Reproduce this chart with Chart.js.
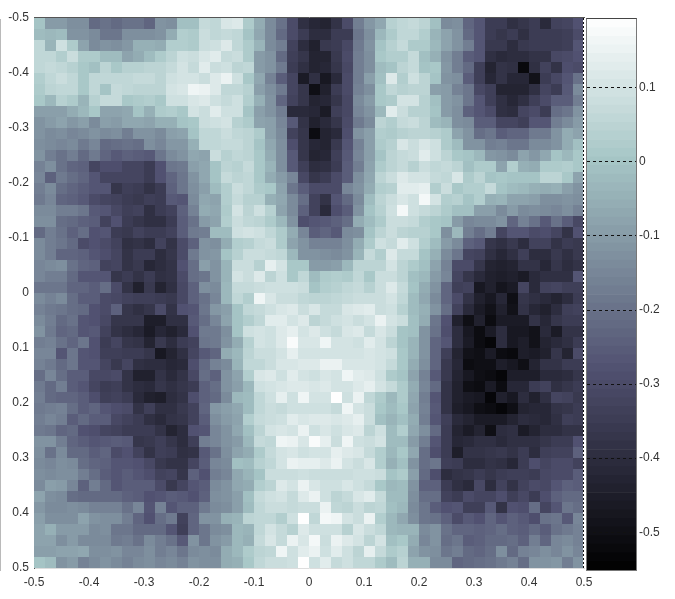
<!DOCTYPE html>
<html>
<head>
<meta charset="utf-8">
<script src="https://cdn.jsdelivr.net/npm/chart.js@4"></script>
<style>
  html, body { margin: 0; background: #fff; }
  canvas { position: absolute; left: 0; top: 0; }
</style>
</head>
<body>
<canvas id="map" width="675" height="599"></canvas>
<canvas id="bar" width="675" height="599"></canvas>
<script>
// axis ticks
const mapTicks = [-0.5, -0.4, -0.3, -0.2, -0.1, 0, 0.1, 0.2, 0.3, 0.4, 0.5];
const barTicks = [-0.5, -0.4, -0.3, -0.2, -0.1, 0, 0.1];
const barMin = -0.551;
const barMax = 0.193;

// cell values, in hundredths, top row first
const cellRows = [
[0,-10,-10,-13,-13,-22,-20,-22,-20,-20,-23,-12,-13,-1,-1,7, 6,11,12,2,-6,-14,-20,-30,-39,-42,-43,-38,-30,-17,-11,-7,4, 6,7,5,-1,-14,-13,-23,-27,-35,-35,-39,-37,-35,-41,-33,-32,-28],
[-2,-3,-2,-12,-12,-14,-19,-19,-13,-13,-13,-12,-6,3,2,8, 6,7,6,0,-7,-14,-22,-30,-35,-40,-40,-35,-35,-19,-13,-3,2, 6,6,3,-4,-8,-12,-22,-27,-35,-37,-35,-39,-35,-35,-35,-34,-30],
[6,-4,9,2,-8,-14,-12,-13,-11,-5,-5,-6,3,3,2,8, 9,12,6,2,-4,-14,-17,-33,-40,-44,-36,-35,-31,-18,-12,0,4, 7,2,2,-3,-8,-12,-17,-27,-36,-36,-40,-36,-35,-35,-35,-34,-27],
[6,6,3,8,2,2,-2,-2,-8,-6,-2,2,5,9,8,11, 13,7,8,2,-10,-12,-22,-34,-37,-43,-43,-36,-30,-17,-13,1,3, 3,7,-1,-5,-12,-17,-25,-27,-39,-41,-40,-40,-38,-38,-31,-30,-28],
[6,7,6,4,1,-1,5,1,4,4,5,5,7,10,7,13, 8,9,5,6,-10,-12,-18,-35,-39,-43,-42,-37,-31,-17,-13,-2,0, 5,7,0,1,-11,-17,-22,-34,-43,-38,-39,-52,-39,-33,-38,-29,-30],
[3,6,8,6,1,6,6,6,6,7,7,5,9,10,10,8, 12,15,9,1,-7,-16,-25,-32,-46,-39,-47,-41,-30,-17,-9,-1,12, 3,9,5,0,-12,-13,-25,-34,-42,-38,-42,-42,-49,-35,-31,-27,-20],
[2,5,6,6,1,6,0,7,6,5,5,5,10,11,16,15, 12,6,6,4,-9,-13,-18,-32,-37,-50,-44,-35,-30,-16,-13,1,6, 4,5,5,-9,-10,-16,-19,-31,-34,-43,-43,-43,-39,-32,-35,-26,-14],
[1,-3,4,2,-4,4,7,7,1,2,3,1,9,9,11,12, 9,7,9,3,-5,-12,-23,-33,-37,-43,-42,-37,-31,-14,-10,1,2, 10,10,4,-1,-10,-12,-19,-27,-34,-39,-42,-39,-34,-30,-25,-25,-17],
[-9,-9,-9,-6,-3,1,-8,-8,-7,0,-5,2,3,1,10,8, 13,9,9,0,-9,-12,-17,-41,-41,-42,-46,-34,-31,-15,-12,-3,13, 8,4,4,0,-10,-13,-24,-27,-30,-39,-40,-32,-30,-35,-21,-19,-12],
[-12,-10,-8,-11,-9,-14,-9,-10,-7,-7,-8,-5,-5,0,1,8, 9,10,4,2,-8,-9,-15,-26,-38,-44,-41,-37,-30,-18,-14,5,3, 7,8,5,-2,-4,-13,-14,-25,-25,-32,-32,-34,-27,-27,-17,-14,-10],
[-12,-14,-13,-15,-14,-12,-14,-13,-17,-12,-12,-14,-9,-8,0,6, 6,8,6,5,2,-9,-14,-33,-37,-51,-43,-41,-29,-12,-9,3,2, 4,5,5,4,2,-8,-12,-21,-19,-25,-23,-23,-18,-18,-12,-6,-8],
[-13,-14,-15,-14,-18,-15,-22,-21,-20,-21,-13,-15,-11,-11,-5,6, 6,7,7,5,0,-7,-13,-29,-37,-42,-43,-36,-27,-16,-9,2,4, 11,8,11,9,2,-2,-12,-12,-17,-16,-19,-19,-14,-14,-12,-6,-1],
[-12,-17,-20,-17,-22,-18,-23,-26,-24,-25,-26,-19,-14,-12,-7,-8, 8,4,6,5,1,-6,-13,-26,-37,-43,-42,-34,-26,-15,-9,0,5, 7,8,13,9,5,1,0,-3,-11,-12,-14,-8,-11,-7,0,-3,1],
[-16,-13,-20,-23,-24,-32,-29,-29,-32,-32,-35,-28,-19,-18,-9,-7, 0,5,4,7,1,-4,-13,-26,-34,-40,-39,-35,-25,-17,-8,2,5, 7,4,8,6,7,5,-1,2,2,-8,3,-5,-6,2,2,3,1],
[-15,-24,-18,-21,-23,-27,-32,-32,-32,-32,-35,-28,-23,-19,-12,-7, 0,7,5,6,1,-6,-10,-15,-31,-37,-35,-30,-25,-13,-7,5,8, 12,10,10,7,6,11,2,5,0,1,0,0,0,5,5,1,-8],
[-17,-14,-21,-23,-25,-27,-27,-37,-34,-35,-38,-35,-24,-19,-13,-9, -2,3,8,6,2,1,-8,-19,-25,-30,-30,-30,-15,-12,-6,3,4, 13,13,14,3,8,1,3,3,7,0,-2,-3,-5,-6,-5,-9,-12],
[-18,-15,-23,-24,-26,-30,-32,-33,-35,-36,-34,-35,-26,-27,-14,-7, -8,3,7,4,4,-5,-7,-14,-21,-33,-38,-27,-22,-14,-2,5,8, 11,9,17,10,3,4,0,3,-5,-4,-8,-8,-9,-13,-13,-12,-13],
[-14,-14,-17,-17,-19,-26,-27,-31,-34,-33,-39,-35,-33,-24,-16,-6, -7,2,10,5,9,4,-8,-14,-24,-33,-41,-29,-25,-12,0,4,9, 17,9,7,5,2,-1,-1,-9,-9,-14,-10,-14,-13,-14,-15,-13,-16],
[-13,-13,-21,-22,-24,-25,-33,-28,-35,-37,-39,-39,-35,-25,-20,-10, -8,3,8,6,5,2,-3,-12,-29,-27,-26,-24,-21,-6,-2,2,8, 8,7,3,1,0,-10,-15,-14,-14,-12,-23,-16,-20,-26,-20,-25,-31],
[-22,-17,-20,-24,-21,-28,-27,-35,-36,-33,-35,-35,-33,-25,-18,-17, -2,-2,9,10,9,6,2,-6,-15,-25,-23,-26,-14,-13,0,5,8, 5,4,4,1,-13,-3,-17,-21,-17,-32,-27,-27,-30,-29,-32,-38,-28],
[-14,-17,-19,-22,-30,-28,-30,-33,-39,-38,-40,-33,-38,-30,-24,-12, -13,-6,3,4,7,8,2,-8,-12,-16,-16,-16,-13,-6,2,9,7, 13,9,3,-2,-10,-14,-24,-26,-37,-39,-36,-40,-33,-33,-38,-35,-36],
[-14,-17,-23,-23,-24,-27,-29,-32,-38,-35,-35,-40,-37,-30,-18,-12, -11,0,4,8,8,7,6,-3,-12,-12,-13,-14,-12,-4,7,3,12, 7,7,0,-5,-14,-19,-32,-33,-39,-42,-39,-34,-40,-40,-36,-39,-36],
[-15,-14,-13,-20,-23,-24,-33,-32,-38,-36,-42,-40,-38,-28,-21,-9, -12,-4,8,8,4,14,10,1,1,-10,-10,-9,-3,5,5,5,10, 5,2,-1,-8,-16,-30,-30,-37,-43,-44,-43,-38,-38,-42,-37,-40,-38],
[-15,-17,-17,-22,-27,-27,-27,-37,-35,-38,-35,-39,-38,-30,-21,-19, -12,-4,10,8,12,5,9,1,6,-2,2,3,2,6,1,8,8, 5,-1,-3,-10,-15,-32,-37,-41,-44,-45,-44,-46,-41,-39,-39,-39,-27],
[-19,-19,-19,-23,-23,-25,-21,-30,-38,-44,-36,-43,-39,-31,-24,-13, -14,-3,7,7,8,9,9,9,8,0,3,4,6,7,4,8,12, 7,0,-6,-12,-23,-34,-33,-47,-44,-48,-46,-32,-41,-33,-32,-34,-34],
[-14,-16,-14,-21,-25,-25,-30,-31,-33,-34,-34,-35,-36,-31,-24,-20, -15,-3,6,3,16,11,8,8,6,5,5,6,7,8,8,8,10, 6,-2,-7,-14,-23,-30,-38,-44,-47,-42,-50,-37,-39,-41,-43,-40,-35],
[-16,-18,-19,-21,-22,-28,-30,-24,-37,-39,-37,-30,-38,-28,-27,-19, -11,-9,0,6,7,9,11,12,8,11,7,7,11,12,13,8,9, 4,-2,-5,-12,-21,-33,-41,-46,-49,-44,-49,-38,-42,-44,-40,-34,-33],
[-14,-17,-22,-20,-27,-28,-31,-37,-37,-37,-45,-45,-39,-39,-26,-21, -15,-8,0,3,6,13,13,10,12,5,7,9,10,8,10,15,10, 8,-1,-6,-19,-28,-44,-50,-44,-51,-46,-46,-46,-38,-42,-37,-35,-35],
[-12,-18,-23,-22,-27,-26,-33,-38,-40,-42,-46,-42,-44,-41,-28,-18, -18,-13,0,9,10,9,12,14,10,12,9,7,11,12,7,11,8, 0,-1,-12,-20,-29,-40,-47,-51,-46,-40,-47,-47,-49,-41,-46,-38,-38],
[-17,-16,-20,-23,-19,-28,-35,-32,-37,-38,-43,-36,-40,-35,-33,-19, -18,-12,-6,4,10,9,12,18,11,11,16,10,10,9,13,10,5, 0,-4,-12,-23,-27,-40,-46,-51,-53,-40,-47,-45,-49,-43,-41,-39,-35],
[-15,-15,-27,-19,-27,-28,-34,-34,-35,-35,-37,-47,-43,-39,-32,-26, -23,-6,-3,5,8,8,10,14,10,10,10,10,10,10,11,10,9, 1,-4,-12,-23,-34,-43,-49,-50,-46,-51,-52,-45,-46,-44,-37,-43,-30],
[-16,-18,-22,-19,-27,-27,-32,-36,-32,-39,-40,-40,-42,-41,-29,-22, -16,-14,-4,6,6,8,11,11,12,12,15,15,11,11,11,10,7, 1,-6,-13,-23,-36,-42,-51,-50,-50,-45,-47,-50,-43,-38,-38,-35,-35],
[-21,-15,-21,-25,-25,-31,-31,-30,-38,-44,-44,-38,-41,-38,-31,-21, -24,-12,-8,3,11,12,9,13,10,9,11,10,16,13,12,9,2, 0,-8,-16,-26,-36,-43,-47,-50,-51,-53,-45,-45,-45,-41,-41,-40,-37],
[-18,-22,-17,-25,-27,-32,-35,-34,-38,-40,-41,-37,-39,-37,-35,-24, -21,-12,-9,-3,9,10,11,12,12,11,12,10,10,12,14,10,7, 2,-6,-15,-22,-38,-44,-50,-51,-46,-51,-42,-42,-35,-33,-39,-37,-35],
[-17,-22,-23,-23,-25,-29,-34,-33,-35,-41,-44,-45,-40,-38,-29,-24, -22,-14,-3,-2,6,9,14,9,16,10,10,19,9,15,6,2,-3, 2,-7,-17,-27,-38,-44,-46,-47,-53,-44,-47,-40,-44,-39,-32,-33,-36],
[-18,-17,-16,-21,-25,-23,-27,-29,-30,-38,-34,-39,-39,-36,-33,-23, -11,-9,-7,-2,6,8,7,9,9,9,9,7,16,10,8,1,-2, 1,-8,-16,-26,-38,-45,-47,-50,-51,-53,-50,-43,-42,-42,-38,-37,-35],
[-17,-15,-17,-25,-22,-25,-25,-31,-33,-35,-39,-41,-38,-37,-33,-25, -13,-10,-8,3,7,8,9,13,11,12,12,11,12,14,8,-1,-4, -1,-6,-17,-27,-34,-41,-43,-46,-46,-46,-43,-40,-41,-42,-39,-34,-35],
[-18,-19,-23,-22,-28,-29,-32,-33,-35,-35,-35,-38,-43,-40,-28,-27, -15,-12,-7,-1,5,10,11,10,15,9,11,9,11,12,5,9,-2, 3,-7,-13,-22,-35,-43,-46,-43,-50,-40,-39,-46,-43,-40,-40,-38,-38],
[-12,-12,-17,-23,-25,-27,-26,-25,-26,-37,-36,-34,-37,-40,-34,-17, -15,-12,-10,-3,7,6,16,15,11,18,14,8,16,9,8,10,-2, -2,-10,-17,-27,-35,-42,-41,-39,-39,-41,-39,-39,-39,-37,-35,-35,-28],
[-13,-20,-14,-22,-22,-25,-23,-30,-28,-33,-38,-34,-35,-39,-38,-26, -20,-13,-8,-6,2,7,10,11,9,10,10,14,12,11,7,3,-3, 1,-7,-21,-29,-35,-45,-38,-38,-37,-36,-38,-35,-40,-34,-33,-33,-24],
[-14,-15,-13,-14,-21,-23,-24,-27,-27,-28,-31,-36,-38,-38,-32,-25, -15,-14,-1,-2,4,6,10,15,14,14,12,15,10,8,11,3,-5, -1,-12,-21,-19,-34,-35,-40,-40,-38,-39,-42,-35,-29,-32,-30,-30,-33],
[-13,-14,-13,-13,-17,-21,-25,-27,-25,-27,-29,-33,-32,-37,-24,-28, -17,-15,-7,-4,0,8,8,8,9,8,8,8,8,9,9,8,0, 2,-9,-22,-29,-40,-38,-37,-35,-37,-35,-34,-34,-35,-31,-30,-30,-25],
[-14,-9,-10,-15,-24,-17,-22,-27,-25,-25,-25,-30,-36,-32,-27,-25, -14,-12,-7,-6,3,5,12,10,15,11,9,9,11,9,7,1,-3, -2,-12,-24,-24,-35,-39,-41,-31,-40,-33,-38,-33,-30,-31,-27,-24,-25],
[-8,-13,-14,-21,-22,-22,-22,-22,-24,-25,-28,-27,-25,-26,-28,-24, -13,-12,-9,-1,7,9,10,7,12,15,9,5,7,11,13,7,-2, -2,-13,-21,-21,-33,-35,-30,-32,-32,-29,-34,-31,-35,-29,-24,-22,-22],
[-11,-14,-14,-13,-14,-16,-16,-16,-20,-15,-27,-16,-27,-24,-24,-18, -14,-13,-9,-2,6,8,8,7,8,8,15,6,5,8,5,6,-1, -3,-14,-19,-25,-28,-27,-34,-34,-26,-38,-28,-29,-21,-32,-27,-19,-21],
[-9,-13,-13,-13,-8,-12,-13,-13,-17,-23,-28,-21,-18,-33,-23,-12, -12,-5,-4,5,6,6,3,9,19,6,17,16,10,8,15,3,-3, -7,-13,-19,-20,-24,-30,-26,-28,-23,-27,-24,-26,-29,-20,-19,-26,-15],
[-8,-5,-10,-10,-10,-14,-13,-19,-19,-22,-22,-22,-27,-34,-23,-19, -14,-13,-3,-4,6,10,7,4,12,9,9,9,4,11,8,6,-3, -4,-4,-14,-12,-20,-23,-23,-24,-23,-21,-24,-25,-22,-25,-20,-18,-16],
[-8,-8,-13,-10,-14,-14,-14,-18,-17,-20,-14,-17,-20,-26,-12,-19, -12,-10,-3,-5,7,11,7,15,11,17,8,15,12,10,5,10,-1, 1,-6,-15,-12,-21,-19,-25,-24,-22,-22,-21,-24,-17,-23,-15,-14,-16],
[-9,-9,-8,-8,-7,-13,-13,-12,-15,-15,-13,-17,-15,-19,-14,-13, -14,-6,-3,2,5,6,16,9,13,15,9,13,9,5,14,7,2, 4,-8,-12,-13,-19,-17,-22,-23,-21,-13,-22,-16,-15,-13,-15,-12,-15],
[0,-2,-12,-10,-16,-14,-12,-14,-16,-14,-13,-15,-14,-16,-12,-13, -13,-6,-5,1,6,8,8,9,19,9,13,7,9,6,6,2,-2, 5,-5,-5,-14,-14,-23,-22,-21,-20,-18,-16,-21,-12,-12,-11,-17,-12]
];

const boneStops = [[0, 0, 0, 0], [0.365, 81, 81, 113], [0.746, 166, 198, 198], [1, 255, 255, 255]];

function boneColour(v) {
    let t = Math.min(1, Math.max(0, (v - barMin) / (barMax - barMin)));
    let i = 1;
    while (i < boneStops.length - 1 && t > boneStops[i][0]) i++;
    let a = boneStops[i - 1], b = boneStops[i];
    let f = (t - a[0]) / (b[0] - a[0]);
    let c = [1, 2, 3].map(k => Math.round(a[k] + (b[k] - a[k]) * f));
    return `rgb(${c[0]}, ${c[1]}, ${c[2]})`;
}

function tickLabel(v) {
    return Math.abs(v) < 1e-9 ? '0' : String(+v.toFixed(1));
}

const tickFont = { family: '"Liberation Sans", Arial, sans-serif', size: 12 };
const cellPoints = [];
const cellColours = [];
cellRows.forEach((row, r) => {
    row.forEach((val, c) => {
        cellPoints.push({ x: -0.49 + c * 0.02, y: -0.49 + r * 0.02 });
        cellColours.push(boneColour(val / 100));
    });
});

// top and right edges of the map, the two left over after the scale borders
const mapFrame = {
    id: 'mapFrame',
    afterDraw(chart) {
        let { ctx, chartArea: a } = chart;
        ctx.save();
        ctx.lineWidth = 1;
        ctx.strokeStyle = '#555';
        ctx.beginPath();
        ctx.moveTo(a.left, a.top - 0.5);
        ctx.lineTo(a.right + 1, a.top - 0.5);
        ctx.stroke();
        ctx.strokeStyle = '#fff';
        ctx.beginPath();
        ctx.moveTo(a.right - 0.5, a.top);
        ctx.lineTo(a.right - 0.5, a.bottom);
        ctx.stroke();
        ctx.strokeStyle = '#111';
        ctx.setLineDash([2, 2]);
        ctx.beginPath();
        ctx.moveTo(a.right - 0.5, a.top);
        ctx.lineTo(a.right - 0.5, a.bottom);
        ctx.stroke();
        ctx.restore();
    }
};

// outline of the colour bar
const barFrame = {
    id: 'barFrame',
    afterDraw(chart) {
        let { ctx, chartArea: a } = chart;
        ctx.save();
        ctx.lineWidth = 1;
        ctx.strokeStyle = '#777';
        ctx.strokeRect(a.left - 0.5, a.top - 0.5, a.right - a.left + 1, a.bottom - a.top + 1);
        ctx.strokeStyle = '#444';
        ctx.beginPath();
        ctx.moveTo(a.left - 0.5, a.top - 0.5);
        ctx.lineTo(a.right + 0.5, a.top - 0.5);
        ctx.stroke();
        ctx.restore();
    }
};

new Chart(document.getElementById('map'), {
    type: 'scatter',
    data: {
        datasets: [{
            data: cellPoints,
            pointStyle: 'rect',
            pointRadius: 11 / Math.SQRT2,
            pointBorderWidth: 0,
            pointBackgroundColor: cellColours
        }]
    },
    options: {
        responsive: false,
        animation: false,
        events: [],
        layout: { padding: { top: 18, right: 91 } },
        plugins: { legend: { display: false }, tooltip: { enabled: false } },
        scales: {
            x: {
                type: 'linear', min: -0.5, max: 0.5,
                grid: { display: false },
                border: { color: '#ddd' },
                afterBuildTicks: s => { s.ticks = mapTicks.map(value => ({ value })); },
                afterFit: s => { s.height = 31; },
                ticks: { callback: tickLabel, font: tickFont, color: '#333', maxRotation: 0, autoSkip: false, padding: -1 }
            },
            y: {
                type: 'linear', min: -0.5, max: 0.5, reverse: true,
                grid: { display: false },
                border: { color: '#555' },
                afterBuildTicks: s => { s.ticks = mapTicks.map(value => ({ value })); },
                afterFit: s => { s.width = 34; },
                ticks: { callback: tickLabel, font: tickFont, color: '#333', autoSkip: false, padding: -3 }
            }
        }
    },
    plugins: [mapFrame]
});

// colour bar, one floating bar per colour level
const levelEdges = [];
for (let i = 0; i <= 64; i++) levelEdges.push(barMin + (barMax - barMin) * i / 64);
const barSets = levelEdges.slice(0, 64).map((lo, i) => ({
    data: [[lo, levelEdges[i + 1]]],
    backgroundColor: boneColour((lo + levelEdges[i + 1]) / 2),
    borderWidth: 0,
    barPercentage: 1,
    categoryPercentage: 1,
    grouped: false
}));

new Chart(document.getElementById('bar'), {
    type: 'bar',
    data: { labels: ['c'], datasets: barSets },
    options: {
        responsive: false,
        animation: false,
        events: [],
        layout: { padding: { left: 587, top: 19, bottom: 29 } },
        plugins: { legend: { display: false }, tooltip: { enabled: false } },
        scales: {
            x: { display: false },
            y: {
                position: 'right',
                min: barMin, max: barMax,
                grid: { color: '#111', drawTicks: false, z: 1 },
                border: { color: '#777', dash: [3, 3] },
                afterBuildTicks: s => { s.ticks = barTicks.map(value => ({ value })); },
                afterFit: s => { s.width = 39; },
                ticks: { callback: tickLabel, font: tickFont, color: '#333', autoSkip: false, padding: 3 }
            }
        }
    },
    plugins: [barFrame]
});
</script>
</body>
</html>
